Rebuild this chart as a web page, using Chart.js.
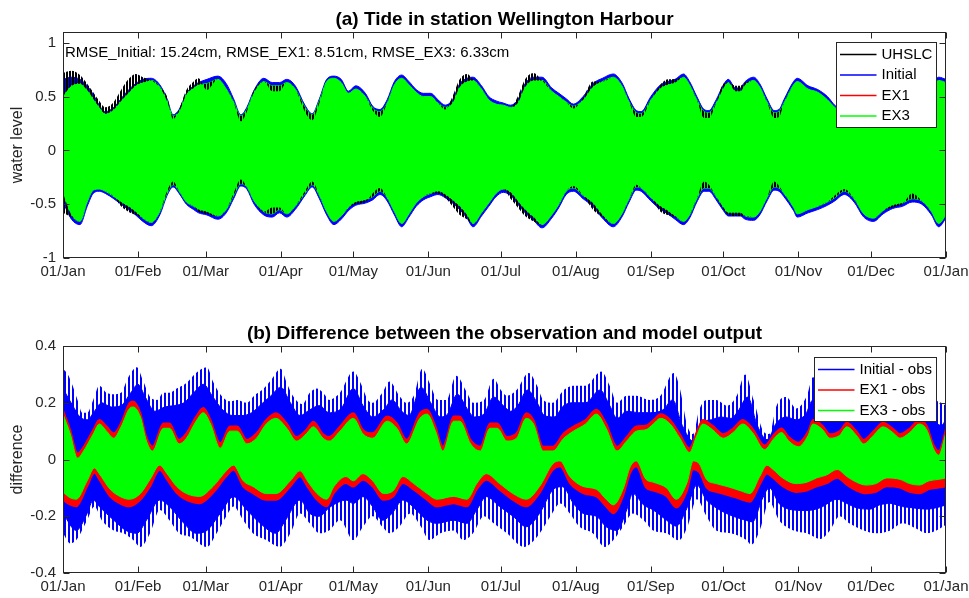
<!DOCTYPE html>
<html>
<head>
<meta charset="utf-8">
<script src="https://cdn.jsdelivr.net/npm/chart.js@4.4.1/dist/chart.umd.min.js"></script>
<style>
  body { margin: 0; background: #fff; overflow: hidden; }
  canvas { position: absolute; left: 0; }
  #tide { top: 0; }
  #diff { top: 299px; }
</style>
</head>
<body>
<canvas id="tide" width="969" height="299"></canvas>
<canvas id="diff" width="969" height="299"></canvas>
<script>
// Eje X: dias del año y etiquetas de mes
const monthDays = [0, 31, 59, 90, 120, 151, 181, 212, 243, 273, 304, 334, 365];
const monthLabels = ['01/Jan','01/Feb','01/Mar','01/Apr','01/May','01/Jun','01/Jul','01/Aug','01/Sep','01/Oct','01/Nov','01/Dec','01/Jan'];
const yTicksA = [-1, -0.5, 0, 0.5, 1];
const yTicksB = [-0.4, -0.2, 0, 0.2, 0.4];

// (a) envolventes de la marea (dias comunes)
const dayA = [
  0,3.5,7,10,12.5,15,17.5,21,24,27,
  30,33,36.5,40,43,45.5,48,51,54,56,
  59.5,64,67.5,70.5,73.5,76,79,83,86.5,89.5,
  92.5,96,100,103,106,109,112,115,118,121,
  125,128,131,134,137,140,143,146,149,152,
  155,158,161,164,167,169.5,173,176,179,182,
  185,188,191,194.5,198,202,205,208,211,215,
  219,223,227.5,231,234,237,239,243,247,250,
  253,256.5,259,262,265,267,270,273,275,278,
  280,282,285.5,288,291,294,296,298,302,303.5,
  308,312,316,319,323,327,331,335,339,343,
  347,351,355,359,362,365];
const iniHi = [
  .66,.68,.66,.60,.52,.42,.36,.40,.48,.56,
  .62,.66,.67,.61,.48,.33,.38,.53,.60,.63,
  .66,.69,.62,.48,.33,.40,.56,.67,.63,.63,
  .66,.60,.42,.34,.48,.66,.69,.66,.55,.60,
  .53,.41,.38,.47,.64,.70,.64,.565,.53,.53,
  .47,.42,.47,.62,.67,.68,.60,.50,.46,.44,
  .42,.47,.62,.68,.68,.58,.53,.48,.43,.50,
  .62,.67,.71,.63,.48,.37,.36,.50,.61,.64,
  .66,.71,.64,.50,.38,.37,.47,.61,.66,.58,
  .58,.64,.68,.62,.48,.37,.38,.47,.64,.67,
  .60,.565,.50,.42,.36,.45,.60,.64,.62,.58,
  .47,.38,.45,.60,.68,.66];
const iniLo = [
  -.48,-.64,-.69,-.52,-.40,-.38,-.40,-.45,-.50,-.55,
  -.60,-.66,-.70,-.60,-.42,-.34,-.40,-.50,-.55,-.58,
  -.60,-.64,-.58,-.45,-.33,-.36,-.50,-.60,-.62,-.58,
  -.62,-.55,-.42,-.34,-.45,-.60,-.69,-.64,-.56,-.51,
  -.49,-.46,-.41,-.47,-.60,-.71,-.62,-.52,-.46,-.43,
  -.41,-.44,-.49,-.55,-.63,-.71,-.61,-.52,-.43,-.39,
  -.42,-.50,-.58,-.65,-.72,-.63,-.53,-.41,-.38,-.45,
  -.52,-.63,-.71,-.62,-.48,-.37,-.38,-.47,-.55,-.59,
  -.64,-.69,-.63,-.48,-.38,-.38,-.46,-.56,-.61,-.61,
  -.61,-.64,-.65,-.60,-.47,-.37,-.38,-.43,-.56,-.62,
  -.58,-.55,-.51,-.47,-.41,-.48,-.62,-.66,-.59,-.54,
  -.52,-.48,-.50,-.60,-.71,-.63];
const ex3Hi = [
  .50,.60,.62,.56,.48,.40,.34,.38,.46,.53,
  .60,.63,.65,.59,.46,.32,.36,.52,.58,.61,
  .62,.66,.57,.45,.32,.38,.54,.64,.60,.60,
  .63,.57,.40,.33,.46,.64,.67,.63,.53,.57,
  .50,.39,.36,.44,.61,.67,.61,.54,.50,.50,
  .44,.40,.44,.59,.64,.65,.57,.47,.43,.42,
  .40,.44,.59,.65,.65,.55,.50,.45,.41,.47,
  .59,.64,.68,.60,.45,.35,.34,.47,.58,.61,
  .63,.68,.61,.47,.36,.35,.44,.58,.63,.55,
  .55,.61,.65,.59,.45,.35,.36,.44,.61,.64,
  .57,.54,.47,.40,.34,.43,.57,.61,.59,.55,
  .44,.36,.42,.57,.65,.63];
const ex3Lo = [
  -.40,-.60,-.66,-.48,-.37,-.36,-.38,-.43,-.48,-.52,
  -.57,-.63,-.67,-.57,-.40,-.32,-.38,-.48,-.52,-.55,
  -.57,-.61,-.55,-.42,-.31,-.34,-.47,-.57,-.59,-.55,
  -.59,-.52,-.40,-.32,-.42,-.57,-.66,-.61,-.53,-.48,
  -.46,-.43,-.38,-.44,-.57,-.68,-.59,-.49,-.43,-.40,
  -.38,-.41,-.46,-.52,-.60,-.68,-.58,-.49,-.40,-.36,
  -.39,-.47,-.55,-.62,-.69,-.60,-.50,-.38,-.35,-.42,
  -.49,-.60,-.68,-.59,-.45,-.34,-.35,-.44,-.52,-.56,
  -.61,-.66,-.60,-.45,-.35,-.35,-.43,-.53,-.58,-.58,
  -.58,-.61,-.62,-.57,-.44,-.34,-.35,-.40,-.53,-.59,
  -.55,-.52,-.48,-.44,-.38,-.45,-.59,-.63,-.56,-.51,
  -.49,-.45,-.47,-.57,-.68,-.60];
const obsHi = [
  .72,.74,.70,.62,.54,.46,.40,.45,.56,.66,
  .71,.68,.65,.59,.50,.29,.38,.56,.64,.67,
  .56,.66,.57,.45,.27,.36,.56,.64,.55,.55,
  .63,.57,.36,.28,.44,.64,.67,.63,.53,.57,
  .50,.37,.31,.44,.61,.67,.61,.54,.50,.50,
  .44,.38,.50,.66,.71,.66,.57,.47,.43,.42,
  .40,.50,.66,.72,.65,.55,.50,.45,.39,.49,
  .64,.64,.68,.60,.45,.31,.31,.47,.61,.66,
  .66,.68,.61,.47,.30,.30,.44,.62,.63,.60,
  .60,.63,.65,.59,.45,.30,.31,.44,.61,.64,
  .57,.54,.47,.40,.34,.43,.57,.61,.59,.55,
  .44,.36,.42,.57,.65,.63];
const obsLo = [
  -.58,-.62,-.66,-.48,-.37,-.36,-.38,-.43,-.52,-.57,
  -.60,-.63,-.67,-.57,-.38,-.29,-.38,-.48,-.52,-.57,
  -.59,-.61,-.55,-.40,-.27,-.34,-.47,-.57,-.53,-.53,
  -.59,-.52,-.38,-.29,-.42,-.57,-.66,-.61,-.53,-.50,
  -.48,-.40,-.35,-.44,-.57,-.68,-.59,-.49,-.43,-.40,
  -.40,-.44,-.52,-.60,-.64,-.68,-.58,-.49,-.40,-.36,
  -.45,-.53,-.61,-.66,-.69,-.60,-.50,-.38,-.33,-.42,
  -.55,-.62,-.68,-.59,-.45,-.32,-.35,-.44,-.57,-.60,
  -.62,-.66,-.60,-.45,-.29,-.32,-.43,-.55,-.60,-.61,
  -.61,-.61,-.62,-.57,-.44,-.29,-.33,-.40,-.53,-.59,
  -.55,-.52,-.48,-.42,-.36,-.45,-.59,-.63,-.56,-.53,
  -.50,-.40,-.47,-.57,-.68,-.60];

// (b) diferencias [dia, valor]
const iniTipHi = [[0,.32],[2,.30],[4,.26],[6,.21],[8,.165],[10,.165],[12.5,.21],[15,.26],[18,.235],[21,.23],
  [24,.235],[27,.29],[30.5,.325],[33,.28],[36,.22],[39,.21],[41.5,.235],[44,.235],[47,.25],[51,.27],
  [55,.305],[59.5,.325],[62,.275],[65,.23],[69,.205],[72,.21],[76,.20],[79,.225],[83,.25],[86,.28],
  [90,.32],[92.5,.27],[95,.225],[99,.195],[102,.235],[105,.25],[108,.23],[110,.21],[114.5,.235],[120,.31],
  [123,.27],[126,.21],[128,.20],[132,.235],[135,.275],[139,.225],[142,.20],[145,.225],[148.5,.32],[151.5,.27],
  [155,.21],[158.5,.21],[162.5,.295],[167,.235],[169.5,.20],[174,.21],[178,.285],[181,.245],[183.5,.225],[187.5,.245],
  [192.5,.305],[196,.26],[198.5,.21],[202.5,.20],[207,.245],[211,.26],[216,.26],[222.5,.31],[226,.26],[229,.20],
  [233,.225],[237,.225],[242.5,.21],[247,.225],[252.5,.305],[255,.25],[258,.12],[260.5,.09],[263,.175],[266,.21],
  [270,.21],[274.5,.19],[278.5,.225],[282,.30],[285.5,.21],[289.5,.10],[292,.09],[295,.19],[299,.22],[303,.18],
  [307.5,.225],[310,.29],[314,.25],[318,.22],[322,.24],[326,.26],[330,.22],[334,.20],[338,.24],[342,.26],
  [346,.23],[350,.22],[354,.25],[358,.26],[361,.21],[363,.20],[365,.19]];
const iniHi_b = [[0,.25],[4,.19],[7,.15],[10,.14],[13,.17],[16,.20],[20,.185],[24,.19],[28,.235],[31,.265],
  [34,.22],[38,.17],[42,.185],[46,.19],[50,.20],[54,.235],[58,.265],[62,.22],[66,.175],[70,.155],
  [74,.155],[78,.165],[82,.195],[86,.225],[90,.255],[94,.20],[98,.155],[102,.175],[106,.19],[110,.165],
  [115,.18],[120,.25],[124,.19],[128,.15],[133,.18],[136,.21],[140,.17],[143,.155],[148,.255],[152,.20],
  [156,.15],[159,.16],[163,.23],[167,.18],[170,.15],[174,.16],[178,.22],[182,.19],[185,.17],[188,.19],
  [192,.245],[196,.20],[199,.155],[203,.15],[207,.19],[211,.20],[216,.20],[222,.245],[226,.19],[229,.145],
  [233,.17],[238,.165],[243,.165],[248,.175],[252,.21],[256,.12],[260.5,.065],[264,.13],[268,.14],[272,.15],
  [276,.145],[279,.17],[283,.22],[287,.12],[291,.07],[295,.13],[299,.15],[303,.14],[307,.16],[310,.21],
  [314,.19],[318,.16],[322,.18],[326,.20],[330,.17],[334,.15],[338,.18],[342,.19],[346,.17],[350,.17],
  [354,.18],[358,.17],[361,.13],[363,.12],[365,.14]];
const ex1Hi_b = [[0,.175],[3,.105],[6,.022],[8.5,.045],[12.5,.105],[15,.14],[18,.117],[21,.093],[24,.13],[27.5,.20],
  [29,.205],[32,.165],[34.5,.08],[37,.046],[41.5,.128],[44,.128],[48,.07],[51,.093],[55,.152],[58,.182],
  [61,.14],[65,.058],[69,.117],[72,.117],[76,.07],[80,.093],[84,.14],[88,.164],[92.5,.128],[96.5,.08],
  [100.5,.105],[103.5,.134],[107.5,.09],[110,.08],[114.5,.117],[120,.164],[124,.105],[128,.093],[134,.152],[138,.128],
  [142,.07],[147.5,.164],[150.5,.176],[154,.117],[157,.046],[161.5,.152],[164,.152],[168.5,.07],[172.5,.046],[176.5,.128],
  [179.5,.128],[183.5,.08],[187.5,.093],[191.5,.164],[194.5,.14],[198.5,.046],[202.5,.046],[207,.093],[211,.117],[216,.14],
  [220.5,.176],[224.5,.128],[229,.046],[233,.08],[237,.117],[241,.12],[244,.14],[247,.16],[251,.14],[255,.09],
  [259,.04],[262,.10],[264.5,.14],[268.5,.12],[273,.09],[277,.11],[281,.14],[285,.11],[290,.05],[294,.09],
  [297,.11],[300,.08],[304,.06],[308,.10],[310,.14],[314,.12],[317,.09],[321,.10],[324,.13],[328,.10],
  [331,.07],[335,.10],[339,.13],[343,.11],[346,.09],[350,.11],[354,.14],[357,.12],[360,.05],[362,.03],[365,.11]];
const ex3Hi_b = [[0,.16],[3,.09],[6,.005],[8.5,.03],[12.5,.09],[15,.125],[18,.10],[21,.075],[24,.115],[27.5,.18],
  [29,.185],[32,.15],[34.5,.065],[37,.03],[41.5,.11],[44,.11],[48,.055],[51,.075],[55,.135],[58,.165],
  [61,.125],[65,.04],[69,.10],[72,.10],[76,.055],[80,.075],[84,.125],[88,.145],[92.5,.11],[96.5,.065],
  [100.5,.09],[103.5,.115],[107.5,.075],[110,.065],[114.5,.10],[120,.145],[124,.09],[128,.075],[134,.135],[138,.11],
  [142,.055],[147.5,.145],[150.5,.16],[154,.10],[157,.03],[161.5,.135],[164,.135],[168.5,.055],[172.5,.03],[176.5,.11],
  [179.5,.11],[183.5,.065],[187.5,.075],[191.5,.145],[194.5,.125],[198.5,.03],[202.5,.03],[207,.075],[211,.10],[216,.125],
  [220.5,.16],[224.5,.11],[229,.03],[233,.065],[237,.10],[241,.105],[244,.125],[247,.145],[251,.125],[255,.075],
  [259,.025],[262,.085],[264.5,.125],[268.5,.105],[273,.075],[277,.095],[281,.125],[285,.095],[290,.035],[294,.075],
  [297,.095],[300,.065],[304,.045],[308,.085],[310,.125],[314,.105],[317,.075],[321,.085],[324,.115],[328,.085],
  [331,.055],[335,.085],[339,.115],[343,.095],[346,.075],[350,.095],[354,.125],[357,.105],[360,.035],[362,.015],[365,.095]];
const ex3Lo_b = [[0,-.115],[3,-.135],[5.5,-.14],[10,-.075],[13,-.03],[15,-.05],[19.5,-.105],[23.5,-.13],[27.5,-.14],[32,-.12],
  [36,-.07],[40,-.02],[43,-.05],[47,-.095],[51,-.12],[56.5,-.13],[62,-.095],[67.5,-.04],[70.5,-.02],[74.5,-.075],
  [78.5,-.095],[84,-.12],[88,-.12],[94,-.075],[98,-.04],[101,-.075],[105,-.12],[109,-.14],[112,-.095],[117,-.06],
  [120,-.075],[124,-.05],[128,-.075],[132.5,-.12],[136.5,-.11],[140.5,-.06],[145,-.085],[150.5,-.12],[154.5,-.14],[161.5,-.13],
  [167,-.14],[171,-.085],[175,-.05],[180.5,-.085],[186,-.12],[191.5,-.14],[197,-.095],[202.5,-.015],[205.5,-.005],[209.5,-.06],
  [215,-.095],[220.5,-.105],[224.5,-.14],[227.5,-.16],[231.5,-.105],[234.5,-.025],[237,-.005],[241,-.07],[244,-.08],[249.5,-.10],
  [253.5,-.14],[258,-.08],[260.5,-.005],[263,-.015],[266,-.07],[270,-.085],[274.5,-.095],[280,-.11],[284,-.12],[288,-.06],
  [291,-.02],[293.5,-.035],[297.5,-.065],[303,-.085],[307.5,-.08],[311.5,-.065],[315.5,-.055],[320,-.035],[324,-.06],[328,-.08],
  [332,-.09],[336,-.085],[340.5,-.065],[346,-.07],[350,-.085],[354,-.09],[358,-.075],[362,-.07],[365,-.065]];
const ex1Lo_b = [[0,-.143],[3,-.16],[5.5,-.166],[10,-.096],[13,-.048],[15,-.072],[19.5,-.131],[23.5,-.155],[27.5,-.166],[32,-.143],
  [36,-.096],[40,-.037],[43,-.072],[47,-.119],[51,-.143],[56.5,-.155],[62,-.119],[67.5,-.06],[70.5,-.037],[74.5,-.096],
  [78.5,-.119],[84,-.143],[88,-.143],[94,-.096],[98,-.06],[101,-.096],[105,-.143],[109,-.166],[112,-.119],[117,-.084],
  [120,-.096],[124,-.072],[128,-.096],[132.5,-.143],[136.5,-.131],[140.5,-.084],[145,-.107],[150.5,-.143],[154.5,-.166],[161.5,-.155],
  [167,-.166],[171,-.107],[175,-.072],[180.5,-.107],[186,-.143],[191.5,-.166],[197,-.119],[202.5,-.037],[205.5,-.025],[209.5,-.084],
  [215,-.119],[220.5,-.131],[224.5,-.166],[227.5,-.19],[231.5,-.131],[234.5,-.048],[237,-.025],[241,-.10],[244,-.11],[249.5,-.13],
  [253.5,-.17],[258,-.11],[260.5,-.035],[263,-.045],[266,-.10],[270,-.115],[274.5,-.125],[280,-.14],[284,-.15],[288,-.09],
  [291,-.05],[293.5,-.065],[297.5,-.095],[303,-.115],[307.5,-.11],[311.5,-.095],[315.5,-.085],[320,-.065],[324,-.09],[328,-.11],
  [332,-.12],[336,-.115],[340.5,-.095],[346,-.10],[350,-.115],[354,-.12],[358,-.105],[362,-.10],[365,-.095]];
const iniLo_b = [[0,-.19],[5.5,-.25],[10,-.19],[12.5,-.143],[15,-.166],[21,-.214],[26,-.25],[30.5,-.26],[34.5,-.214],[40,-.143],
  [44,-.166],[50,-.225],[55,-.26],[59.5,-.25],[65,-.19],[70.5,-.131],[76,-.178],[81.5,-.225],[88,-.26],[92,-.214],
  [98,-.143],[102,-.19],[106,-.20],[110,-.17],[114,-.15],[117,-.143],[120,-.155],[124,-.131],[128,-.166],[132,-.214],
  [136,-.19],[140.5,-.143],[146,-.178],[150.5,-.214],[154.5,-.225],[161.5,-.214],[167,-.225],[171,-.178],[175,-.131],[180.5,-.166],
  [186,-.20],[191.5,-.237],[197,-.19],[202.5,-.107],[206.5,-.096],[211,-.155],[215,-.19],[220.5,-.20],[224.5,-.237],[229,-.25],
  [233,-.178],[235.5,-.12],[240,-.16],[244,-.178],[249.5,-.214],[253.5,-.235],[258,-.17],[262,-.09],[266,-.143],[271.5,-.178],
  [277,-.20],[282.5,-.215],[285,-.22],[289,-.14],[292,-.10],[296,-.155],[302,-.178],[307.5,-.18],[313,-.17],[320,-.14],
  [324,-.155],[328,-.17],[333.5,-.175],[337.5,-.16],[342,-.155],[347,-.166],[351,-.17],[357,-.175],[361,-.17],[365,-.16]];
const iniTipLo = [[0,-.26],[3,-.296],[5.5,-.284],[10,-.214],[13,-.166],[16,-.214],[21,-.25],[25,-.26],[29,-.284],[32,-.308],
  [36,-.26],[40,-.178],[44,-.214],[48,-.26],[52.5,-.272],[59.5,-.308],[63.5,-.26],[67.5,-.20],[70.5,-.166],[74.5,-.214],
  [78.5,-.26],[84,-.284],[89.5,-.308],[94,-.26],[98,-.19],[102,-.225],[106,-.26],[110,-.25],[114.5,-.214],[120,-.284],
  [124,-.237],[128,-.20],[132,-.237],[135,-.26],[139,-.237],[143.5,-.19],[148,-.237],[151.5,-.284],[156,-.26],[161.5,-.25],
  [165.5,-.284],[169.5,-.26],[174,-.20],[178,-.225],[183.5,-.26],[190.5,-.308],[196,-.272],[201.5,-.20],[205.5,-.155],[209.5,-.19],
  [213.5,-.237],[219,-.26],[224,-.308],[227.5,-.284],[231.5,-.237],[235.5,-.19],[240,-.214],[244,-.25],[249.5,-.26],[254.5,-.285],
  [258,-.24],[262,-.14],[266,-.20],[270,-.25],[276,-.26],[282.5,-.284],[284.5,-.30],[288,-.25],[292,-.15],[296,-.214],
  [302,-.25],[307.5,-.26],[313,-.28],[317,-.25],[321,-.20],[325,-.225],[331,-.25],[336,-.26],[342,-.25],[347,-.225],
  [353,-.245],[357,-.26],[361,-.25],[365,-.23]];

const FONT = "'Liberation Sans', Arial, sans-serif";
const INK = '#262626';
const BLUE = '#0000ff', RED = '#ff0000', GREEN = '#00ff00', BLACK = '#000000';
const NONE = 'rgba(0,0,0,0)';

Chart.defaults.font.family = FONT;
Chart.defaults.font.size = 15;
Chart.defaults.color = INK;

function stripes(color, period, on) {
  const c = document.createElement('canvas');
  c.width = period; c.height = 8;
  const g = c.getContext('2d');
  g.fillStyle = color;
  g.fillRect(0, 0, on, 8);
  return g.createPattern(c, 'repeat');
}

function grid(days, vals) { return days.map((d, i) => ({x: d, y: vals[i]})); }
function pairs(arr) { return arr.map(p => ({x: p[0], y: p[1]})); }

function series(data, line, width, fillTo, bg, order) {
  return {
    data: data, borderColor: line, borderWidth: width, backgroundColor: bg,
    fill: fillTo, order: order, pointRadius: 0, cubicInterpolationMode: 'monotone'
  };
}

function scaleOpts(xHeight, yMin, yMax, yTicks) {
  return {
    x: {
      type: 'linear', min: 0, max: 365,
      afterBuildTicks: s => { s.ticks = monthDays.map(v => ({value: v})); },
      afterFit: s => { s.height = xHeight; s.paddingLeft = 0; s.paddingRight = 0; },
      ticks: { autoSkip: false, maxRotation: 0, padding: 5, color: INK,
               callback: (v, i) => monthLabels[i] },
      grid: { display: false, drawTicks: false }, border: { display: false }
    },
    y: {
      min: yMin, max: yMax,
      afterBuildTicks: s => { s.ticks = yTicks.map(v => ({value: v})); },
      afterFit: s => { s.width = 63; },
      ticks: { padding: 7, color: INK, callback: v => String(v) },
      grid: { display: false, drawTicks: false }, border: { display: false }
    }
  };
}

// marco, titulos y leyenda estilo MATLAB
function decor(o) {
  return {
    id: 'decor',
    afterDraw(chart) {
      const ctx = chart.ctx, a = chart.chartArea, x = chart.scales.x, y = chart.scales.y;
      ctx.save();
      const L = Math.round(a.left) + 0.5, R = Math.round(a.right) - 0.5;
      const T = Math.round(a.top) + 0.5, B = Math.round(a.bottom) - 0.5;
      ctx.strokeStyle = INK; ctx.lineWidth = 1;
      ctx.strokeRect(L, T, R - L, B - T);
      ctx.beginPath();
      monthDays.forEach(d => {
        const px = Math.round(x.getPixelForValue(d)) + 0.5;
        ctx.moveTo(px, B); ctx.lineTo(px, B - 6);
        ctx.moveTo(px, T); ctx.lineTo(px, T + 6);
      });
      o.yTicks.forEach(v => {
        const py = Math.round(y.getPixelForValue(v)) + 0.5;
        ctx.moveTo(L, py); ctx.lineTo(L + 6, py);
        ctx.moveTo(R, py); ctx.lineTo(R - 6, py);
      });
      ctx.stroke();

      // titulo
      ctx.fillStyle = '#000';
      ctx.font = 'bold 19px ' + FONT;
      ctx.textAlign = 'center'; ctx.textBaseline = 'middle';
      ctx.fillText(o.title, (a.left + a.right) / 2, a.top - 12);

      // etiqueta eje y
      ctx.save();
      ctx.translate(18, (a.top + a.bottom) / 2);
      ctx.rotate(-Math.PI / 2);
      ctx.font = '16px ' + FONT;
      ctx.fillStyle = INK;
      ctx.fillText(o.yLabel, 0, 0);
      ctx.restore();

      // texto RMSE
      if (o.note) {
        ctx.font = '15px ' + FONT;
        ctx.fillStyle = '#000';
        ctx.textAlign = 'left';
        ctx.fillText(o.note, a.left + 2, a.top + 21);
      }

      // leyenda
      ctx.font = '15px ' + FONT;
      const tw = Math.max(...o.legend.map(it => ctx.measureText(it.label).width));
      const w = Math.round(45 + tw + 4), h = Math.round(o.legend.length * 20.5 + 2.5);
      const bx = Math.round(a.right - 10 - w) + 0.5, by = Math.round(a.top + o.legendTop) + 0.5;
      ctx.fillStyle = '#fff';
      ctx.fillRect(bx, by, w, h);
      ctx.strokeStyle = INK; ctx.lineWidth = 1;
      ctx.strokeRect(bx, by, w, h);
      ctx.textAlign = 'left';
      o.legend.forEach((it, i) => {
        const cy = by + 12 + i * 20.5;
        ctx.strokeStyle = it.color; ctx.lineWidth = 1.5;
        ctx.beginPath(); ctx.moveTo(bx + 3.5, cy); ctx.lineTo(bx + 40, cy); ctx.stroke();
        ctx.fillStyle = '#000';
        ctx.fillText(it.label, bx + 45, cy);
      });
      ctx.restore();
    }
  };
}

const base = {
  responsive: false, animation: false, devicePixelRatio: 1, events: [],
  plugins: { legend: { display: false }, title: { display: false }, tooltip: { enabled: false } }
};

// (a) Marea
const hatchK = stripes(BLACK, 3, 2);
new Chart(document.getElementById('tide'), {
  type: 'line',
  data: { datasets: [
    series(grid(dayA, iniHi), BLUE, 1, 1, BLUE, 3),
    series(grid(dayA, iniLo), BLUE, 1, false, BLUE, 3),
    series(grid(dayA, ex3Hi), GREEN, 1, 3, GREEN, 2),
    series(grid(dayA, ex3Lo), GREEN, 1, false, GREEN, 2),
    series(grid(dayA, obsHi), NONE, 1, 2, hatchK, 1),
    series(grid(dayA, obsLo), NONE, 1, 3, hatchK, 1)
  ]},
  options: Object.assign({}, base, {
    layout: { padding: { top: 32, right: 23, left: 0, bottom: 0 } },
    scales: scaleOpts(41, -1, 1.1, yTicksA)
  }),
  plugins: [decor({
    title: '(a) Tide in station Wellington Harbour', yLabel: 'water level', yTicks: yTicksA,
    note: 'RMSE_Initial: 15.24cm, RMSE_EX1: 8.51cm, RMSE_EX3: 6.33cm', legendTop: 9.7,
    legend: [{label: 'UHSLC', color: BLACK}, {label: 'Initial', color: BLUE},
             {label: 'EX1', color: RED}, {label: 'EX3', color: GREEN}]
  })]
});

// (b) Diferencias
const hatchB = stripes(BLUE, 4, 2);
new Chart(document.getElementById('diff'), {
  type: 'line',
  data: { datasets: [
    series(pairs(iniTipHi), NONE, 1, 1, hatchB, 4),
    series(pairs(iniTipLo), NONE, 1, false, hatchB, 4),
    series(pairs(iniHi_b), BLUE, 1, 3, BLUE, 3),
    series(pairs(iniLo_b), BLUE, 1, false, BLUE, 3),
    series(pairs(ex1Hi_b), RED, 1.5, 5, RED, 2),
    series(pairs(ex1Lo_b), RED, 1.5, false, RED, 2),
    series(pairs(ex3Hi_b), GREEN, 1, 7, GREEN, 1),
    series(pairs(ex3Lo_b), GREEN, 1, false, GREEN, 1)
  ]},
  options: Object.assign({}, base, {
    layout: { padding: { top: 47, right: 23, left: 0, bottom: 0 } },
    scales: scaleOpts(25, -0.4, 0.4, yTicksB)
  }),
  plugins: [decor({
    title: '(b) Difference between the observation and model output', yLabel: 'difference', yTicks: yTicksB,
    legendTop: 10.7,
    legend: [{label: 'Initial - obs', color: BLUE}, {label: 'EX1 - obs', color: RED}, {label: 'EX3 - obs', color: GREEN}]
  })]
});
</script>
</body>
</html>
